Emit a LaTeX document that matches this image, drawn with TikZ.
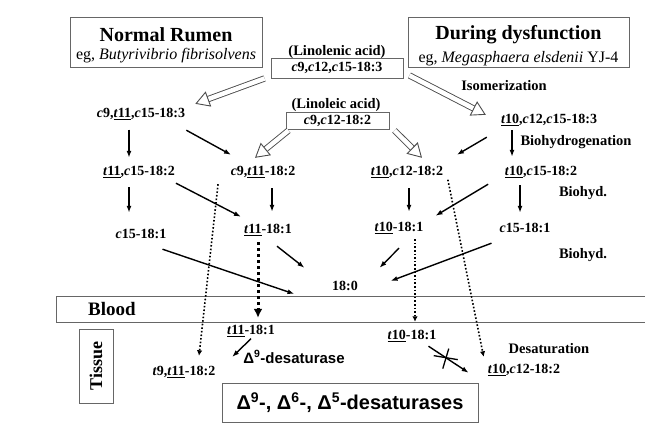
\documentclass[tikz,border=0pt]{standalone}
\usepackage{fontspec}
\setmainfont{Liberation Serif}
\newfontfamily\arialfont{Liberation Sans}
\usetikzlibrary{arrows.meta}

\newcommand{\cs}{\textit{c}}
\newcommand{\tr}[1]{\underline{\textit{t}#1}}

\tikzset{
  chem/.style={font=\fontsize{14}{16}\selectfont\bfseries, inner sep=1pt, text height=10pt, text depth=3pt},
  note/.style={font=\fontsize{14.5}{16}\selectfont\bfseries, inner sep=1pt},
  frame/.style={draw=black!60, line width=0.9pt},
  arr/.style={-{Latex[length=7pt,width=5pt]}, line width=1.4pt},
  dotarr/.style={-{Latex[length=5.5pt,width=5.5pt]}, line width=1.6pt, dash pattern=on 1.6pt off 2pt},
  fatdot/.style={-{Latex[length=9pt,width=9pt]}, line width=3pt, dash pattern=on 3pt off 3pt},
  hollow/.style={draw=black!70, line width=0.9pt, double=white, double distance=4.5pt,
    -{Triangle[open,length=14pt,width=16pt]}}
}

\begin{document}
\begin{tikzpicture}[x=1pt,y=-1pt]
  \useasboundingbox (0,0) rectangle (664,444);

  % headers
  \node[frame, align=center, minimum width=192pt, minimum height=50pt, inner sep=2pt] (rumen) at (166,42)
    {\rule{0pt}{20pt}\fontsize{20}{21}\selectfont\bfseries Normal Rumen\\[6pt]
     \fontsize{16}{18}\selectfont eg, \textit{Butyrivibrio fibrisolvens}};
  \node[frame, align=center, minimum width=221pt, minimum height=49pt, inner sep=2pt] (dysf) at (518.5,42.5)
    {\rule{0pt}{20pt}\fontsize{20}{21}\selectfont\bfseries During dysfunction\\[6pt]
     \fontsize{16}{18}\selectfont eg, \textit{Megasphaera elsdenii} YJ-4};

  % precursors
  \node[note] (lnname) at (337,52) {(Linolenic acid)};
  \node[chem, frame, minimum width=132pt, minimum height=20pt] (lnbox) at (337,68) {\cs9,\cs12,\cs15-18:3};
  \node[note] (laname) at (336,105) {(Linoleic acid)};
  \node[chem, frame, minimum width=103pt, minimum height=17pt] (lbox) at (337.5,120.5) {\cs9,\cs12-18:2};

  % rumen intermediates
  \node[chem] (n1) at (141,114) {\cs9,\tr{11},\cs15-18:3};
  \node[chem] (n2) at (549,120) {\tr{10},\cs12,\cs15-18:3};
  \node[note] (iso) at (504,86) {Isomerization};
  \node[note] (bioh) at (576,142) {Biohydrogenation};
  \node[chem] (n3) at (139,172) {\tr{11},\cs15-18:2};
  \node[chem] (n4) at (263,172) {\cs9,\tr{11}-18:2};
  \node[chem] (n5) at (407,172) {\tr{10},\cs12-18:2};
  \node[chem] (n6) at (541,172) {\tr{10},\cs15-18:2};
  \node[note] (bh1) at (583,193) {Biohyd.};
  \node[chem] (n7) at (141,235) {\cs15-18:1};
  \node[chem] (n8) at (268,230) {\tr{11}-18:1};
  \node[chem] (n9) at (399,228) {\tr{10}-18:1};
  \node[chem] (n10) at (525,229) {\cs15-18:1};
  \node[note] (bh2) at (583,255) {Biohyd.};
  \node[chem] (zero) at (345,287) {18:0};

  % blood and tissue
  \draw[frame] (645,296) -- (56,296) -- (56,322) -- (645,322);
  \node[font=\fontsize{19}{21}\selectfont\bfseries] (blood) at (112,309) {Blood};
  \node[frame, rotate=90, minimum width=74pt, minimum height=34pt,
    font=\fontsize{18}{20}\selectfont\bfseries] (tissue) at (96,366) {Tissue};
  \node[chem] (t1) at (251,331) {\tr{11}-18:1};
  \node[font=\arialfont\fontsize{15}{17}\selectfont\bfseries, inner sep=1pt] (d9) at (294,357)
    {Δ\textsuperscript{9}-desaturase};
  \node[chem] (t2) at (184,372) {\textit{t}9,\tr{11}-18:2};
  \node[chem] (t3) at (412,336) {\tr{10}-18:1};
  \node[note] (desat) at (549,349) {Desaturation};
  \node[chem] (t4) at (524,370) {\tr{10},\cs12-18:2};
  \node[frame, minimum width=256pt, minimum height=39pt,
    font=\arialfont\fontsize{20}{22}\selectfont\bfseries] (dbox) at (350,402.5)
    {Δ\textsuperscript{9}-, Δ\textsuperscript{6}-, Δ\textsuperscript{5}-desaturases};

  % isomerization
  \draw[hollow] ([xshift=-6pt]lnbox.south west) -- ([xshift=9pt,yshift=2.5pt]n1.north east);
  \draw[hollow] ([xshift=6pt,yshift=3pt]lnbox.south east) -- ([xshift=-14pt,yshift=-2.5pt]n2.north west);
  \draw[hollow] ([xshift=3pt,yshift=-1pt]lbox.south west) -- ([xshift=-8pt,yshift=6.5pt]n4.north);
  \draw[hollow] ([xshift=5pt,yshift=-1pt]lbox.south east) -- ([xshift=15pt,yshift=6.5pt]n5.north);

  % normal pathway
  \draw[arr, shorten <=8pt, shorten >=6.5pt] ([xshift=-12pt]n1.south) -- ([xshift=-12pt]n1.south |- n3.north);
  \draw[arr] ([yshift=-8.5pt]n1.south east) -- ([xshift=1.5pt,yshift=9.5pt]n4.north west);
  \draw[arr, shorten <=7.5pt, shorten >=14.5pt] ([xshift=-10pt]n3.south) -- ([xshift=-10pt]n3.south |- n7.north);
  \draw[arr] ([yshift=-3.5pt]n3.south east) -- ([xshift=-2pt,yshift=5.5pt]n8.north west);
  \draw[arr, shorten <=8.5pt, shorten >=10.5pt] ([xshift=9pt]n4.south) -- ([xshift=9pt]n4.south |- n8.north);
  \draw[arr] ([xshift=-5pt,yshift=-6.5pt]n7.south east) -- ([xshift=-36.5pt,yshift=-7pt]zero.west);
  \draw[arr] ([xshift=9pt,yshift=-8.5pt]n8.south) -- ([xshift=-26.5pt,yshift=11.5pt]zero.north west);

  % dysfunction pathway
  \draw[arr, shorten <=2.5pt, shorten >=7.5pt] ([xshift=-37pt]n2.south) -- ([xshift=-37pt]n2.south |- n6.north);
  \draw[arr] ([xshift=-13pt,yshift=-9.5pt]n2.south west) -- ([xshift=12.5pt,yshift=9.5pt]n5.north east);
  \draw[arr, shorten <=8.5pt, shorten >=8.5pt] ([xshift=2pt]n5.south) -- ([xshift=2pt]n5.south |- n9.north);
  \draw[arr] ([xshift=-15.5pt,yshift=-4.5pt]n6.south west) -- ([xshift=11pt,yshift=4.5pt]n9.north east);
  \draw[arr, shorten <=5.5pt, shorten >=8.5pt] ([xshift=-21pt]n6.south) -- ([xshift=-21pt]n6.south |- n10.north);
  \draw[arr] ([yshift=-12.5pt]n9.south) -- ([xshift=20.5pt,yshift=11.5pt]zero.north east);
  \draw[arr] ([xshift=-7pt,yshift=-6.5pt]n10.south west) -- ([xshift=31.5pt,yshift=6pt]zero.east);

  % transfer to tissue
  \draw[dotarr] ([xshift=-11.5pt,yshift=-4.5pt]n4.south west) -- ([xshift=15pt,yshift=8.5pt]t2.north);
  \draw[fatdot, shorten <=4.5pt, shorten >=5.5pt] ([xshift=-10pt]n8.south) -- ([xshift=-10pt]n8.south |- t1.north);
  \draw[dotarr] ([xshift=3.5pt]n5.south east) -- ([xshift=-3pt,yshift=5.5pt]t4.north west);
  \draw[dotarr, shorten <=3.5pt, shorten >=6.5pt] ([xshift=16pt]n9.south) -- ([xshift=16pt]n9.south |- t3.north);

  % desaturation in tissue
  \draw[arr] (t1.south) -- ([xshift=-10pt]d9.west);
  \draw[arr] ([xshift=-9pt,yshift=-2.5pt]t3.south east) -- coordinate[pos=.43] (xc) ([xshift=-18pt,yshift=-10.5pt]t4.north west);
  \draw[line width=1.3pt] ([xshift=-12pt,yshift=2pt]xc) -- ([xshift=12pt,yshift=-2pt]xc);
  \draw[line width=1.3pt] ([xshift=3pt,yshift=9pt]xc) -- ([xshift=-3pt,yshift=-11pt]xc);
\end{tikzpicture}
\end{document}
